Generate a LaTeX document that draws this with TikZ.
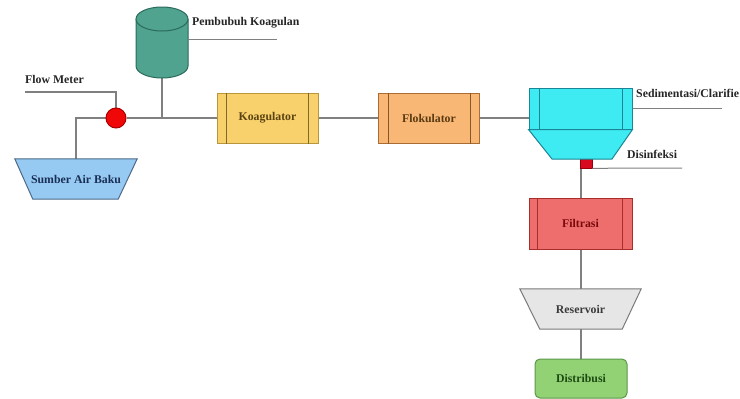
\documentclass[tikz,border=0pt]{standalone}
\usepackage{fontspec}
\setmainfont{Liberation Serif}
\usetikzlibrary{backgrounds}
\definecolor{pipe}{HTML}{808080}
\definecolor{koagF}{HTML}{F8D16C}\definecolor{koagD}{HTML}{B8963A}\definecolor{koagT}{HTML}{5A4312}
\definecolor{flokF}{HTML}{F8B775}\definecolor{flokD}{HTML}{A96C33}\definecolor{flokT}{HTML}{5A3A12}
\definecolor{sedF}{HTML}{3FEBF3}\definecolor{sedD}{HTML}{1A8594}
\definecolor{filF}{HTML}{EE6E6E}\definecolor{filD}{HTML}{A82E2E}\definecolor{filT}{HTML}{7A0A0A}
\definecolor{resF}{HTML}{E6E6E6}\definecolor{resD}{HTML}{7A7A7A}\definecolor{resT}{HTML}{3A3A3A}
\definecolor{disF}{HTML}{93D274}\definecolor{disD}{HTML}{5B984A}\definecolor{disT}{HTML}{1B4A12}
\definecolor{srcF}{HTML}{97CAF2}\definecolor{srcD}{HTML}{4C6A8A}\definecolor{srcT}{HTML}{1A2F55}
\definecolor{cylF}{HTML}{4FA38F}\definecolor{cylD}{HTML}{2C6A5B}
\definecolor{labT}{HTML}{262626}
\tikzset{
  lbl/.style={font=\fontsize{11.8}{13}\selectfont\bfseries, text=labT, inner sep=0pt},
  boxtext/.style={font=\fontsize{11.8}{13}\selectfont\bfseries, inner sep=0pt},
  pipeline/.style={draw=pipe, line width=1.3pt},
  unit/.style={boxtext, draw, line width=1pt, minimum width=101pt, minimum height=50pt},
}
\begin{document}
\begin{tikzpicture}[x=1pt,y=-1pt]
\clip (0,0) rectangle (740,399);
\begin{scope}[on background layer]
\fill[white] (0,0) rectangle (740,399);
\end{scope}

% ---- Cylinder (Pembubuh Koagulan)
\fill[cylF] (136,19) -- (136,66) arc[start angle=180,end angle=0,x radius=26,y radius=12] -- (188,19) -- cycle;
\draw[cylD,line width=1pt] (136,19) -- (136,66) arc[start angle=180,end angle=0,x radius=26,y radius=12] -- (188,19);
\draw[cylD,line width=1pt,fill=cylF] (162,19) ellipse[x radius=26,y radius=12];
\coordinate (cyl) at (162,78);

% ---- Flow meter
\node (fm) [circle, draw={rgb,255:red,170;green,0;blue,0}, line width=1pt, fill={rgb,255:red,240;green,8;blue,8}, minimum size=20pt, inner sep=0pt] at (116,118) {};

% ---- Source
\node (src) [boxtext, text=srcT, minimum width=122pt, minimum height=40pt] at (76,179) {Sumber Air Baku};
% ---- units
\node (koag) [unit, draw=koagD, fill=koagF, text=koagT] at (267.5,118) {Koagulator};
\node (flok) [unit, draw=flokD, fill=flokF, text=flokT] at (429,118) {Flokulator};
\node (sed) [draw=sedD, fill=sedF, line width=1pt, minimum width=103pt, minimum height=41pt, inner sep=0pt] at (580.5,108.5) {};
\node (fil) [unit, draw=filD, fill=filF, text=filT, minimum width=103pt, minimum height=51pt] at (580.5,223.5) {Filtrasi};
\node (res) [boxtext, text=resT, minimum width=121pt, minimum height=40pt] at (580.5,309) {Reservoir};
\node (dist) [boxtext, draw=disD, fill=disF, text=disT, line width=1pt, rounded corners=5pt, minimum width=92pt, minimum height=39pt] at (581,378.5) {Distribusi};
\node (dis) [draw={rgb,255:red,150;green,0;blue,10}, fill={rgb,255:red,215;green,10;blue,30}, line width=0.6pt, minimum width=12pt, minimum height=10pt, inner sep=0pt] at (586,163) {};

% inner bars
\draw[koagD!70!black, line width=1pt] ([xshift=10pt]koag.north west) -- ([xshift=10pt]koag.south west);
\draw[koagD!70!black, line width=1pt] ([xshift=-10pt]koag.north east) -- ([xshift=-10pt]koag.south east);
\draw[flokD!80!black, line width=1pt] ([xshift=10pt]flok.north west) -- ([xshift=10pt]flok.south west);
\draw[flokD!80!black, line width=1pt] ([xshift=-10pt]flok.north east) -- ([xshift=-10pt]flok.south east);
\draw[sedD, line width=1pt] ([xshift=11pt]sed.north west) -- ([xshift=11pt]sed.south west);
\draw[sedD, line width=1pt] ([xshift=-10pt]sed.north east) -- ([xshift=-10pt]sed.south east);
\draw[filD, line width=1pt] ([xshift=9pt]fil.north west) -- ([xshift=9pt]fil.south west);
\draw[filD, line width=1pt] ([xshift=-10pt]fil.north east) -- ([xshift=-10pt]fil.south east);

% sedimentation hopper
\draw[sedD, fill=sedF, line width=1pt] (sed.south west) -- (sed.south east) -- (612,159) -- (552,159) -- cycle;
\coordinate (sedb) at (581,159);

% ---- labels
\node (fmlab) [lbl, anchor=west] at (25,79) {Flow Meter};
\coordinate (fml) at (25,92);
\node (cyllab) [lbl, anchor=west] at (192,23) {Pembubuh Koagulan};
\coordinate (cyll1) at (188,39); \coordinate (cyll2) at (277,39);
\node (sedlab) [lbl, anchor=west] at (636,93) {Sedimentasi/Clarifie};
\coordinate (sedl1) at (633,108); \coordinate (sedl2) at (722,108);
\node (dislab) [lbl, anchor=west] at (627,154) {Disinfeksi};
\coordinate (disl2) at (682,168);

% ---- connectors and trapezoid tanks (behind the nodes)
\begin{scope}[on background layer]
\draw[pipeline] (fml) -| (fm.north);
\draw[pipeline] (fm.west) -| (src.north);
\draw[pipeline] (fm.east) -- (koag.west);
\coordinate (j1) at (cyl |- fm);
\draw[pipeline] (cyl) -- (j1);
\draw[pipeline] (koag.east) -- (flok.west);
\draw[pipeline] (flok.east) -- (flok.east -| sed.west);
\draw[pipeline] (sedb) -- (sedb |- fil.north);
\draw[pipeline] (fil.south -| sedb) -- (sedb |- res.north);
\draw[pipeline] (res.south -| sedb) -- (sedb |- dist.north);
\draw[srcD, fill=srcF, line width=1pt] (src.north west) -- (src.north east) -- ([xshift=-19pt]src.south east) -- ([xshift=18pt]src.south west) -- cycle;
\draw[resD, fill=resF, line width=1pt] (res.north west) -- (res.north east) -- ([xshift=-19pt]res.south east) -- ([xshift=20pt]res.south west) -- cycle;
\end{scope}
\draw[pipeline, line width=1pt] (cyll1) -- (cyll2);
\draw[pipeline, line width=1pt] (sedl1) -- (sedl2);
\draw[pipeline, line width=1pt] (dis.south east) -- (disl2);
\end{tikzpicture}
\end{document}
